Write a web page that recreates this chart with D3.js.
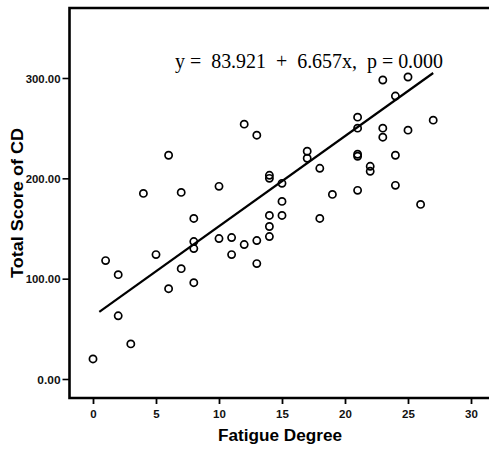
<!DOCTYPE html>
<html>
<head>
<meta charset="utf-8">
<script src="https://cdn.jsdelivr.net/npm/d3@7"></script>
<style>
  html, body { margin: 0; padding: 0; background: #fff; }
  svg { display: block; }
  .tick text { font-family: Arial, "Liberation Sans", sans-serif; font-weight: bold; fill: #111; }
</style>
</head>
<body>
<div id="chart"></div>
<script>
// fatigue degree (x) and total score of CD (y)
const fatigue = [0, 1, 2, 2, 3, 4, 5, 6, 6, 7, 7, 8, 8, 8, 8, 10, 10, 11, 11, 12, 12, 13, 13, 13,
  14, 14, 14, 14, 14, 15, 15, 15, 17, 17, 18, 18, 19, 21, 21, 21, 21, 21, 22, 22,
  23, 23, 23, 24, 24, 24, 25, 25, 26, 27];
const scoreCD = [20, 118, 104, 63, 35, 185, 124, 223, 90, 186, 110, 160, 137, 130, 96, 192, 140, 141, 124, 254, 134, 243, 138, 115,
  203, 200, 163, 152, 142, 195, 177, 163, 227, 220, 210, 160, 184, 261, 250, 224, 222, 188, 212, 207,
  298, 250, 241, 282, 223, 193, 301, 248, 174, 258];

// fitted line as drawn in the figure (endpoints)
const fitX = [0.5, 27];
const fitY = [67, 305];

const xTicks = [0, 5, 10, 15, 20, 25, 30];
const yTicks = [0, 100, 200, 300];
const equation = "y =  83.921  +  6.657x,  p = 0.000";

(() => {
  const width = 489, height = 449;
  const frame = { left: 69.5, top: 8, bottom: 398, right: 496 };

  const svg = d3.select("#chart").append("svg")
    .attr("width", width)
    .attr("height", height);

  const x = d3.scaleLinear().domain([0, 30]).range([93, 471]);
  const y = d3.scaleLinear().domain([0, 300]).range([379, 78]);

  // frame: top, left, bottom (right edge falls outside the crop)
  svg.append("path")
    .attr("d", `M${frame.right},${frame.top} H${frame.left} V${frame.bottom} H${frame.right}`)
    .attr("fill", "none")
    .attr("stroke", "#000")
    .attr("stroke-width", 2.6);

  // y axis
  const fmtY = d3.format(".2f");
  const yAxis = svg.append("g")
    .attr("transform", `translate(${frame.left},0)`)
    .call(d3.axisLeft(y).tickValues(yTicks).tickFormat(fmtY).tickSize(7).tickPadding(2).tickSizeOuter(0));
  yAxis.select(".domain").remove();
  yAxis.selectAll(".tick line").attr("stroke", "#000").attr("stroke-width", 1.6);
  yAxis.selectAll(".tick text")
    .style("font-size", "11.5px")
    .attr("textLength", d => fmtY(d).length * 5.8)
    .attr("lengthAdjust", "spacingAndGlyphs")
    .attr("dy", "0.35em");

  // x axis
  const xAxis = svg.append("g")
    .attr("transform", `translate(0,${frame.bottom})`)
    .call(d3.axisBottom(x).tickValues(xTicks).tickSize(6).tickPadding(6).tickSizeOuter(0));
  xAxis.select(".domain").remove();
  xAxis.selectAll(".tick line").attr("stroke", "#000").attr("stroke-width", 1.8);
  xAxis.selectAll(".tick text").style("font-size", "11.5px");

  // axis titles
  svg.append("text")
    .attr("x", 280)
    .attr("y", 441)
    .attr("text-anchor", "middle")
    .style("font-family", "Arial, 'Liberation Sans', sans-serif")
    .style("font-weight", "bold")
    .style("font-size", "16px")
    .attr("textLength", 124)
    .attr("lengthAdjust", "spacingAndGlyphs")
    .text("Fatigue Degree");

  svg.append("text")
    .attr("transform", "translate(23,203) rotate(-90)")
    .attr("text-anchor", "middle")
    .style("font-family", "Arial, 'Liberation Sans', sans-serif")
    .style("font-weight", "bold")
    .style("font-size", "16px")
    .attr("textLength", 150)
    .attr("lengthAdjust", "spacingAndGlyphs")
    .text("Total Score of CD");

  // regression line
  const line = d3.line().x(d => x(d[0])).y(d => y(d[1]));
  svg.append("path")
    .attr("d", line(d3.zip(fitX, fitY)))
    .attr("fill", "none")
    .attr("stroke", "#000")
    .attr("stroke-width", 2.2);

  // points
  svg.append("g").selectAll("circle")
    .data(d3.zip(fatigue, scoreCD))
    .join("circle")
    .attr("cx", d => x(d[0]))
    .attr("cy", d => y(d[1]))
    .attr("r", 3.6)
    .attr("fill", "none")
    .attr("stroke", "#000")
    .attr("stroke-width", 1.7);

  // equation
  svg.append("text")
    .attr("x", 175)
    .attr("y", 68)
    .style("font-family", "'Liberation Serif', 'DejaVu Serif', serif")
    .style("font-size", "22px")
    .style("white-space", "pre")
    .attr("textLength", 268)
    .attr("lengthAdjust", "spacingAndGlyphs")
    .text(equation);
})();
</script>
</body>
</html>
